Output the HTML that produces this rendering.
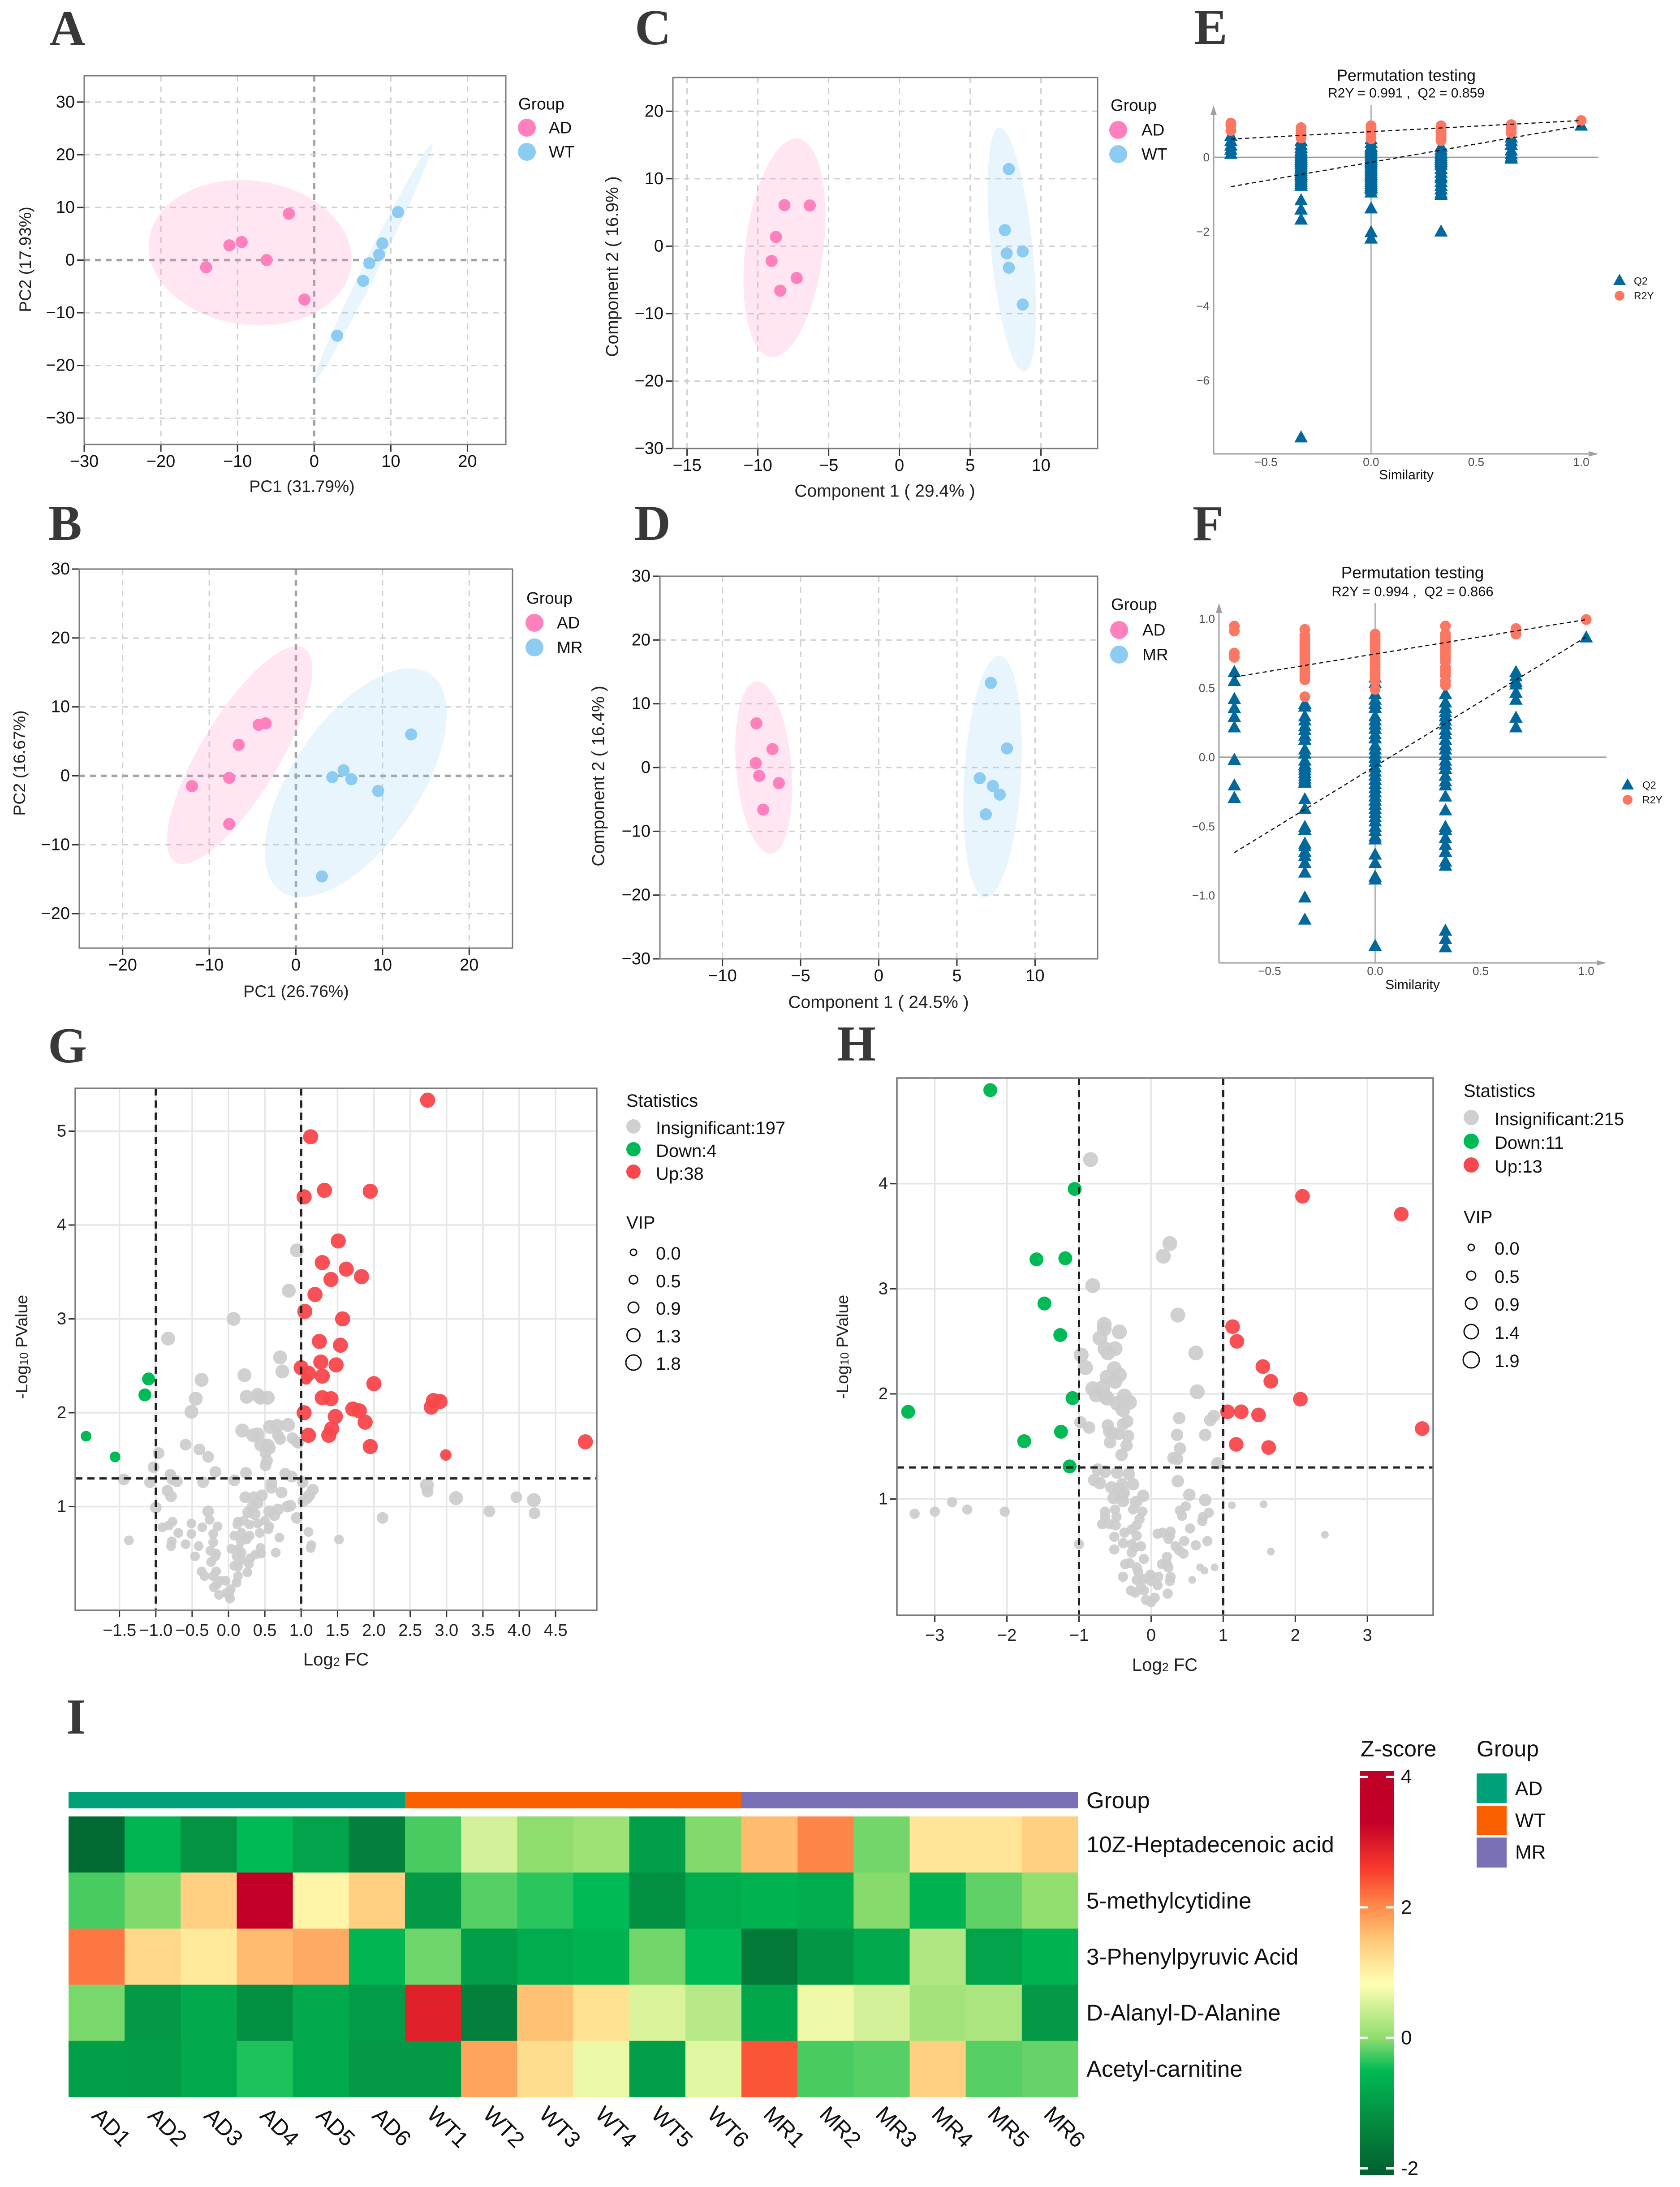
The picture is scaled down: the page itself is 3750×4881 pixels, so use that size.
<!DOCTYPE html>
<html lang="en">
<head>
<meta charset="utf-8">
<title>Metabolomics multi-panel figure</title>
<style>
html,body{margin:0;padding:0;background:#fff;}
svg{display:block;}
text{font-family:"Liberation Sans",Arial,sans-serif;fill:#111;}
.panel-letter{font-family:"Liberation Serif","Times New Roman",serif;font-weight:bold;font-size:112px;fill:#383838;}
.t38{font-size:38px;}
.axt{font-size:37.5px;fill:#222;}
.axc{font-size:39px;fill:#222;}
.axl{font-size:40px;fill:#222;}
.lg{font-size:37px;}
.vlg{font-size:40px;}
.permt{font-size:36px;}
.permf{font-size:37px;}
.perms{font-size:30px;}
.permg{font-size:31px;}
.sim{font-size:30px;}
.plg{font-size:23px;}
.hm{font-size:51px;}
.hl{font-size:50px;}
.hg{font-size:44px;}
</style>
</head>
<body>
<svg id="figure" xmlns="http://www.w3.org/2000/svg" width="3750" height="4881" viewBox="0 0 3750 4881">
<rect width="3750" height="4881" fill="#fff"/>

<text class="panel-letter" x="110" y="101">A</text>
<text class="panel-letter" x="108" y="1205">B</text>
<text class="panel-letter" x="1417" y="99">C</text>
<text class="panel-letter" x="1416" y="1205">D</text>
<text class="panel-letter" x="2665" y="98">E</text>
<text class="panel-letter" x="2662" y="1206">F</text>
<text class="panel-letter" x="107" y="2371">G</text>
<text class="panel-letter" x="1868" y="2367">H</text>
<text class="panel-letter" x="148" y="3869">I</text>

<g id="panel-a"></g>
<g id="panel-b"></g>
<g id="panel-c"></g>
<g id="panel-d"></g>
<g id="panel-e"></g>
<g id="panel-f"></g>
<g id="panel-g"></g>
<g id="panel-h"></g>
<g id="panel-i"></g>

<!-- axis titles -->
<text class="axt" x="674" y="1085" text-anchor="middle" dominant-baseline="central">PC1 (31.79%)</text>
<text class="axt" transform="translate(56 579) rotate(-90)" text-anchor="middle" dominant-baseline="central">PC2 (17.93%)</text>
<text class="axt" x="661" y="2212" text-anchor="middle" dominant-baseline="central">PC1 (26.76%)</text>
<text class="axt" transform="translate(43 1703) rotate(-90)" text-anchor="middle" dominant-baseline="central">PC2 (16.67%)</text>
<text class="axc" x="1975" y="1096" text-anchor="middle" dominant-baseline="central">Component 1 ( 29.4% )</text>
<text class="axc" transform="translate(1367 595) rotate(-90)" text-anchor="middle" dominant-baseline="central">Component 2 ( 16.9% )</text>
<text class="axc" x="1961" y="2237" text-anchor="middle" dominant-baseline="central">Component 1 ( 24.5% )</text>
<text class="axc" transform="translate(1336 1732) rotate(-90)" text-anchor="middle" dominant-baseline="central">Component 2 ( 16.4% )</text>
<text class="axl" x="750" y="3704" text-anchor="middle" dominant-baseline="central">Log<tspan font-size="27" dy="5">2</tspan><tspan dy="-5"> FC</tspan></text>
<text class="axt" transform="translate(48 3006) rotate(-90)" text-anchor="middle" dominant-baseline="central">-Log<tspan font-size="26" dy="5">10</tspan><tspan dy="-5"> PValue</tspan></text>
<text class="axl" x="2600" y="3716" text-anchor="middle" dominant-baseline="central">Log<tspan font-size="27" dy="5">2</tspan><tspan dy="-5"> FC</tspan></text>
<text class="axt" transform="translate(1880 3006) rotate(-90)" text-anchor="middle" dominant-baseline="central">-Log<tspan font-size="26" dy="5">10</tspan><tspan dy="-5"> PValue</tspan></text>

<!-- PCA / PLS-DA legends -->
<g>
<text class="lg" x="1157" y="232" dominant-baseline="central">Group</text>
<circle cx="1176" cy="285" r="20" fill="#ff80bd"/>
<text class="lg" x="1225" y="285" dominant-baseline="central">AD</text>
<circle cx="1176" cy="339" r="20" fill="#8ccbf2"/>
<text class="lg" x="1225" y="339" dominant-baseline="central">WT</text>
</g>
<g>
<text class="lg" x="1175" y="1335" dominant-baseline="central">Group</text>
<circle cx="1193" cy="1390" r="20" fill="#ff80bd"/>
<text class="lg" x="1243" y="1390" dominant-baseline="central">AD</text>
<circle cx="1193" cy="1445" r="20" fill="#8ccbf2"/>
<text class="lg" x="1243" y="1445" dominant-baseline="central">MR</text>
</g>
<g>
<text class="lg" x="2479" y="235" dominant-baseline="central">Group</text>
<circle cx="2496" cy="290" r="20" fill="#ff80bd"/>
<text class="lg" x="2548" y="290" dominant-baseline="central">AD</text>
<circle cx="2496" cy="344" r="20" fill="#8ccbf2"/>
<text class="lg" x="2548" y="344" dominant-baseline="central">WT</text>
</g>
<g>
<text class="lg" x="2480" y="1349" dominant-baseline="central">Group</text>
<circle cx="2498" cy="1406" r="20" fill="#ff80bd"/>
<text class="lg" x="2540" y="1406" dominant-baseline="central" dx="10">AD</text>
<circle cx="2498" cy="1461" r="20" fill="#8ccbf2"/>
<text class="lg" x="2540" y="1461" dominant-baseline="central" dx="10">MR</text>
</g>

<!-- Permutation titles and legends -->
<text class="permt" x="3139" y="168" text-anchor="middle" dominant-baseline="central">Permutation testing</text>
<text class="perms" x="3139" y="208" text-anchor="middle" dominant-baseline="central" xml:space="preserve">R2Y = 0.991 ,  Q2 = 0.859</text>
<text class="sim" x="3139" y="1060" text-anchor="middle" dominant-baseline="central">Similarity</text>
<polygon points="3615,611 3629,636 3601,636" fill="#00689d"/>
<text class="plg" x="3647" y="627" dominant-baseline="central">Q2</text>
<circle cx="3615" cy="660" r="11" fill="#fb7762"/>
<text class="plg" x="3647" y="660" dominant-baseline="central">R2Y</text>

<text class="permf" x="3153" y="1278" text-anchor="middle" dominant-baseline="central">Permutation testing</text>
<text class="permg" x="3153" y="1320" text-anchor="middle" dominant-baseline="central" xml:space="preserve">R2Y = 0.994 ,  Q2 = 0.866</text>
<text class="sim" x="3153" y="2198" text-anchor="middle" dominant-baseline="central">Similarity</text>
<polygon points="3633,1737 3647,1762 3619,1762" fill="#00689d"/>
<text class="plg" x="3666" y="1752" dominant-baseline="central">Q2</text>
<circle cx="3633" cy="1785" r="11" fill="#fb7762"/>
<text class="plg" x="3666" y="1785" dominant-baseline="central">R2Y</text>

<!-- Volcano legends -->
<g>
<text class="vlg" x="1398" y="2457" dominant-baseline="central">Statistics</text>
<circle cx="1414" cy="2514" r="16" fill="#cfcfcf"/>
<text class="vlg" x="1464" y="2518" dominant-baseline="central">Insignificant:197</text>
<circle cx="1414" cy="2565" r="16" fill="#00ba55"/>
<text class="vlg" x="1464" y="2569" dominant-baseline="central">Down:4</text>
<circle cx="1414" cy="2615" r="16" fill="#f8484c"/>
<text class="vlg" x="1464" y="2620" dominant-baseline="central">Up:38</text>
<text class="vlg" x="1398" y="2729" dominant-baseline="central">VIP</text>
<circle cx="1414" cy="2795" r="7" fill="none" stroke="#111" stroke-width="3"/>
<text class="vlg" x="1464" y="2798" dominant-baseline="central">0.0</text>
<circle cx="1414" cy="2856" r="9.5" fill="none" stroke="#111" stroke-width="3"/>
<text class="vlg" x="1464" y="2860" dominant-baseline="central">0.5</text>
<circle cx="1414" cy="2918" r="12" fill="none" stroke="#111" stroke-width="3"/>
<text class="vlg" x="1464" y="2921" dominant-baseline="central">0.9</text>
<circle cx="1414" cy="2980" r="14.5" fill="none" stroke="#111" stroke-width="3"/>
<text class="vlg" x="1464" y="2983" dominant-baseline="central">1.3</text>
<circle cx="1414" cy="3041" r="17" fill="none" stroke="#111" stroke-width="3"/>
<text class="vlg" x="1464" y="3044" dominant-baseline="central">1.8</text>
</g>
<g>
<text class="vlg" x="3267" y="2435" dominant-baseline="central">Statistics</text>
<circle cx="3284" cy="2494" r="17" fill="#cfcfcf"/>
<text class="vlg" x="3336" y="2498" dominant-baseline="central">Insignificant:215</text>
<circle cx="3284" cy="2547" r="17" fill="#00ba55"/>
<text class="vlg" x="3336" y="2551" dominant-baseline="central">Down:11</text>
<circle cx="3284" cy="2600" r="17" fill="#f8484c"/>
<text class="vlg" x="3336" y="2604" dominant-baseline="central">Up:13</text>
<text class="vlg" x="3267" y="2717" dominant-baseline="central">VIP</text>
<circle cx="3284" cy="2784" r="7" fill="none" stroke="#111" stroke-width="3"/>
<text class="vlg" x="3336" y="2787" dominant-baseline="central">0.0</text>
<circle cx="3284" cy="2847" r="10" fill="none" stroke="#111" stroke-width="3"/>
<text class="vlg" x="3336" y="2850" dominant-baseline="central">0.5</text>
<circle cx="3284" cy="2909" r="13" fill="none" stroke="#111" stroke-width="3"/>
<text class="vlg" x="3336" y="2912" dominant-baseline="central">0.9</text>
<circle cx="3284" cy="2972" r="16" fill="none" stroke="#111" stroke-width="3"/>
<text class="vlg" x="3336" y="2975" dominant-baseline="central">1.4</text>
<circle cx="3284" cy="3035" r="18" fill="none" stroke="#111" stroke-width="3"/>
<text class="vlg" x="3336" y="3038" dominant-baseline="central">1.9</text>
</g>

<!-- Heatmap legends -->
<text class="hl" x="3037" y="3903" dominant-baseline="central">Z-score</text>
<text class="hl" x="3296" y="3903" dominant-baseline="central">Group</text>
<rect x="3296" y="3958" width="67" height="66" fill="#00a078"/>
<text class="hg" x="3382" y="3992" dominant-baseline="central">AD</text>
<rect x="3296" y="4030" width="67" height="66" fill="#fb6000"/>
<text class="hg" x="3382" y="4063" dominant-baseline="central">WT</text>
<rect x="3296" y="4101" width="67" height="67" fill="#7a70b5"/>
<text class="hg" x="3382" y="4134" dominant-baseline="central">MR</text>
<text class="hm" x="2425" y="4018" dominant-baseline="central">Group</text>
</svg>

<script>
/* ---------- Panel A data ---------- */
const aAdPc1 = [-14.1, -11.06, -9.46, -6.2, -3.3, -1.27];
const aAdPc2 = [-1.37, 2.8, 3.43, 0, 8.8, -7.5];
const aWtPc1 = [3.0, 6.39, 7.2, 8.47, 8.9, 10.94];
const aWtPc2 = [-14.35, -3.93, -0.6, 1.06, 3.18, 9.1];
const aAdEllipse = [-8.35, 1.4, 13.25, 13.8, -0.09];
const aWtEllipse = [7.77, -0.25, 7.68, 22.35, 0.99];
const aXTicks = [-30, -20, -10, 0, 10, 20];
const aYTicks = [-30, -20, -10, 0, 10, 20, 30];
/* ---------- Panel B data ---------- */
const bAdPc1 = [-12.0, -7.7, -7.7, -6.6, -4.3, -3.5];
const bAdPc2 = [-1.5, -0.3, -7, 4.5, 7.4, 7.6];
const bMrPc1 = [3, 4.2, 5.5, 6.4, 9.5, 13.3];
const bMrPc2 = [-14.6, -0.2, 0.8, -0.5, -2.2, 6];
const bAdEllipse = [-6.5, 3, 8.4, 15.8, 0.786];
const bMrEllipse = [6.9, -1, 10.5, 16.6, 0.6];
const bXTicks = [-20, -10, 0, 10, 20];
const bYTicks = [-20, -10, 0, 10, 20, 30];
/* ---------- Panel C data ---------- */
const cAdC1 = [-8.12, -6.33, -8.72, -9.03, -7.26, -8.42];
const cAdC2 = [6.08, 6.03, 1.36, -2.19, -4.72, -6.6];
const cWtC1 = [7.73, 7.45, 7.58, 8.71, 7.73, 8.71];
const cWtC2 = [11.43, 2.38, -1.07, -0.78, -3.2, -8.66];
const cAdEllipse = [-8.12, -0.24, 2.9, 16.2, 0.29];
const cWtEllipse = [7.94, -0.5, 1.71, 18.1, -0.5];
const cXTicks = [-15, -10, -5, 0, 5, 10];
const cYTicks = [-30, -20, -10, 0, 10, 20];
/* ---------- Panel D data ---------- */
const dAdC1 = [-7.83, -6.8, -7.87, -7.65, -6.39, -7.39];
const dAdC2 = [6.93, 2.9, 0.7, -1.3, -2.45, -6.6];
const dMrC1 = [7.17, 8.2, 6.46, 7.3, 7.74, 6.85];
const dMrC2 = [13.26, 3, -1.67, -2.9, -4.25, -7.34];
const dAdEllipse = [-7.36, 0, 1.82, 13.5, -0.23];
const dMrEllipse = [7.28, -1.43, 1.87, 18.95, 0.23];
const dXTicks = [-10, -5, 0, 5, 10];
const dYTicks = [-30, -20, -10, 0, 10, 20, 30];

/* ---------- Panel E permutation data ---------- */
const similarityLevels = [-0.667, -0.333, 0, 0.333, 0.667, 1];
const eQ2 = [
  [0.59, 0.45, 0.33, 0.22, 0.11],
  [0.45, 0.35, 0.27, 0.2, 0.15, 0.1, 0.05, 0, -0.05, -0.1, -0.15, -0.2, -0.25, -0.3, -0.35, -0.4, -0.45, -0.5, -0.55, -0.6, -0.65, -0.7, -0.75, -1.14, -1.39, -1.66, -7.52],
  [0.5, 0.4, 0.3, 0.25, 0.2, 0.15, 0.1, 0.05, 0, -0.05, -0.1, -0.15, -0.2, -0.25, -0.3, -0.35, -0.4, -0.45, -0.5, -0.55, -0.6, -0.65, -0.7, -0.75, -0.8, -0.85, -0.93, -1.36, -2.0, -2.17],
  [0.3, 0.22, 0.15, 0.1, 0.05, 0, -0.05, -0.1, -0.15, -0.2, -0.3, -0.4, -0.5, -0.55, -0.65, -0.75, -0.85, -0.95, -1.0, -1.98],
  [0.55, 0.45, 0.35, 0.2, 0.1, 0.02, -0.02],
  [0.87]
];
const eR2Y = [
  [0.92, 0.85, 0.72],
  [0.8, 0.75, 0.7, 0.65, 0.6, 0.55, 0.52],
  [0.85, 0.8, 0.75, 0.7, 0.65, 0.5],
  [0.85, 0.8, 0.75, 0.7, 0.65, 0.6, 0.55, 0.5, 0.45],
  [0.88, 0.8, 0.7, 0.65],
  [0.99]
];
const eR2YLine = [0.49, 0.99];
const eQ2Line = [-0.79, 0.85];
const eXTicks = [-0.5, 0, 0.5, 1];
const eXTickLabels = ['\u22120.5', '0.0', '0.5', '1.0'];
const eYTicks = [-6, -4, -2, 0];
const eYTickLabels = ['\u22126', '\u22124', '\u22122', '0'];

/* ---------- Panel F permutation data ---------- */
const fQ2 = [
  [0.62, 0.555, 0.425, 0.36, 0.295, 0.22, -0.015, -0.2, -0.29],
  [0.39, 0.37, 0.30, 0.27, 0.23, 0.2, 0.16, 0.13, 0.06, 0.03, -0.02, -0.05, -0.07, -0.09, -0.11, -0.13, -0.15, -0.17, -0.18, -0.3, -0.37, -0.5, -0.52, -0.62, -0.64, -0.68, -0.71, -0.76, -0.83, -1.01, -1.17],
  [0.58, 0.54, 0.46, 0.42, 0.39, 0.36, 0.3, 0.27, 0.24, 0.21, 0.17, 0.14, 0.09, 0.06, 0.03, 0, -0.03, -0.07, -0.1, -0.13, -0.16, -0.19, -0.22, -0.25, -0.28, -0.31, -0.34, -0.37, -0.4, -0.43, -0.46, -0.5, -0.53, -0.57, -0.59, -0.7, -0.76, -0.86, -0.88, -1.36],
  [0.46, 0.4, 0.36, 0.33, 0.3, 0.27, 0.24, 0.2, 0.17, 0.13, 0.09, 0.06, 0.02, -0.02, -0.05, -0.08, -0.13, -0.17, -0.2, -0.28, -0.38, -0.5, -0.52, -0.58, -0.63, -0.68, -0.75, -0.78, -1.25, -1.31, -1.37],
  [0.62, 0.59, 0.55, 0.53, 0.47, 0.42, 0.29, 0.22],
  [0.87]
];
const fR2Y = [
  [0.948, 0.912, 0.753, 0.722],
  [0.924, 0.88, 0.86, 0.84, 0.82, 0.8, 0.78, 0.76, 0.74, 0.72, 0.7, 0.68, 0.66, 0.64, 0.62, 0.6, 0.58, 0.56, 0.437],
  [0.89, 0.87, 0.85, 0.83, 0.81, 0.79, 0.77, 0.75, 0.73, 0.71, 0.69, 0.67, 0.65, 0.63, 0.61, 0.59, 0.57, 0.55, 0.49],
  [0.948, 0.89, 0.87, 0.85, 0.83, 0.81, 0.79, 0.77, 0.75, 0.73, 0.71, 0.69, 0.65, 0.63, 0.61, 0.59, 0.55, 0.52],
  [0.93, 0.89],
  [0.995]
];
const fR2YLine = [0.58, 0.995];
const fQ2Line = [-0.69, 0.87];
const fXTicks = [-0.5, 0, 0.5, 1];
const fXTickLabels = ['\u22120.5', '0.0', '0.5', '1.0'];
const fYTicks = [-1, -0.5, 0, 0.5, 1];
const fYTickLabels = ['\u22121.0', '\u22120.5', '0.0', '0.5', '1.0'];

/* ---------- Panel G volcano data: [log2FC, -log10P] ---------- */
const gUpLarge = [[2.74,5.33],[1.13,4.94],[1.32,4.37],[1.95,4.36],[1.04,4.30],[1.51,3.83],[1.29,3.60],[1.62,3.53],[1.83,3.45],[1.41,3.42],[1.19,3.26],[1.05,3.08],[1.57,3.00],[1.25,2.76],[1.54,2.72],[1.00,2.48],[1.27,2.54],[1.48,2.51],[1.10,2.42],[1.29,2.39],[2.00,2.31],[1.29,2.16],[1.41,2.15],[2.82,2.13],[2.91,2.12],[2.79,2.06],[1.04,2.00],[1.71,2.04],[1.80,2.02],[1.47,1.96],[1.88,1.90],[1.42,1.83],[1.38,1.76],[1.10,1.76],[1.95,1.64],[4.91,1.69]];
const gUpMid = [[1.07,2.36],[2.99,1.55]];
const gDownLarge = [[-1.10,2.36],[-1.15,2.19]];
const gDownMid = [[-1.96,1.75],[-1.56,1.53]];
const gGrayLarge = [[0.94,3.73],[0.83,3.30],[0.07,3.00],[-0.83,2.79],[0.74,2.44],[0.22,2.40],[-0.37,2.35],[0.40,2.19],[-0.45,2.15],[-0.51,2.01],[0.71,2.59],[0.25,2.17],[0.44,2.16],[0.54,2.16],[0.57,1.85],[0.67,1.86],[0.82,1.87],[0.19,1.81],[0.34,1.76],[0.40,1.77],[0.45,1.66],[0.54,1.65],[4.20,1.07],[2.73,1.23],[3.13,1.09]];
const gGrayMid = [[0.68,1.76],[0.88,1.73],[0.71,1.72],[0.94,1.69],[0.96,1.68],[-0.59,1.66],[-0.40,1.61],[0.57,1.62],[0.51,1.57],[-0.96,1.57],[-0.28,1.53],[0.53,1.49],[0.51,1.44],[-1.03,1.42],[-0.18,1.37],[0.24,1.36],[-0.80,1.34],[-0.77,1.29],[-0.71,1.27],[-1.44,1.29],[-0.35,1.26],[0.08,1.28],[-1.08,1.26],[0.78,1.35],[0.87,1.32],[0.59,1.25],[1.02,1.26],[0.59,1.20],[-0.84,1.17],[-0.79,1.11],[0.73,1.15],[1.16,1.18],[0.23,1.10],[0.35,1.10],[0.46,1.12],[1.11,1.12],[1.08,1.09],[1.03,1.06],[-1.00,0.99],[0.40,1.04],[0.33,1.00],[0.81,1.00],[0.85,1.01],[-0.28,0.95],[0.68,0.97],[0.56,0.95],[0.27,0.94],[0.63,0.91],[0.36,0.92],[2.74,1.16],[3.59,0.95],[3.96,1.10],[4.21,0.93],[2.12,0.88],[0.94,0.88]];
const gGrayLow = [[-0.77,0.84],[-0.26,0.86],[-0.51,0.82],[-0.91,0.78],[-0.82,0.80],[-0.36,0.78],[-0.15,0.79],[0.13,0.84],[0.21,0.85],[0.50,0.85],[0.12,0.81],[0.29,0.81],[0.40,0.82],[0.56,0.79],[-0.69,0.72],[-0.51,0.71],[-0.21,0.71],[0.08,0.69],[0.18,0.72],[0.29,0.69],[0.43,0.72],[0.55,0.76],[0.70,0.67],[1.10,0.73],[-1.37,0.64],[-0.78,0.63],[-0.79,0.58],[-0.59,0.60],[-0.41,0.58],[-0.21,0.62],[0.17,0.63],[0.25,0.65],[1.14,0.59],[1.13,0.56],[1.52,0.65],[0.04,0.55],[0.14,0.55],[0.44,0.56],[-0.25,0.53],[-0.17,0.50],[-0.46,0.47],[-0.18,0.47],[0.11,0.47],[0.18,0.51],[0.37,0.49],[0.45,0.50],[0.65,0.51],[-0.24,0.41],[0.18,0.43],[0.30,0.45],[0.28,0.39],[0.08,0.37],[0.13,0.36],[-0.37,0.31],[-0.17,0.31],[-0.33,0.26],[-0.21,0.26],[0.26,0.30],[0.13,0.26],[-0.11,0.21],[-0.04,0.21],[-0.16,0.17],[0.11,0.19],[0.03,0.12],[-0.20,0.14],[-0.03,0.08],[-0.13,0.06],[0.02,0.02],[0.01,0.06]];
const gXTicks = [-1.5, -1, -0.5, 0, 0.5, 1, 1.5, 2, 2.5, 3, 3.5, 4, 4.5];
const gYTicks = [1, 2, 3, 4, 5];
const gFcCut = [-1, 1];
const gPCut = [1.3];

/* ---------- Panel H volcano data: [log2FC, -log10P] ---------- */
const hUp = [[2.10,3.88],[3.47,3.71],[1.13,2.64],[1.19,2.50],[1.55,2.26],[1.66,2.12],[2.07,1.95],[1.06,1.83],[1.25,1.83],[1.49,1.80],[3.76,1.67],[1.18,1.52],[1.63,1.49]];
const hDown = [[-2.23,4.89],[-1.06,3.95],[-1.59,3.28],[-1.19,3.29],[-1.48,2.86],[-1.26,2.56],[-1.09,1.96],[-3.37,1.83],[-1.25,1.64],[-1.76,1.55],[-1.13,1.31]];
const hGrayLarge = [[-0.84,4.23],[0.26,3.43],[0.17,3.31],[-0.81,3.03],[0.37,2.75],[-0.65,2.66],[-0.65,2.62],[-0.44,2.59],[-0.71,2.53],[-0.64,2.43],[-0.50,2.43],[-0.60,2.39],[0.62,2.39],[-0.97,2.37],[-0.91,2.25],[-0.51,2.24],[-0.44,2.18],[-0.61,2.16],[-0.50,2.12],[-0.81,2.05],[-0.67,2.06],[0.64,2.02],[-0.76,1.99],[-0.64,1.98],[-0.61,1.96],[-0.37,1.98],[-0.30,1.92],[-0.47,1.91],[-0.39,1.85]];
const hGrayMid = [[0.87,1.79],[0.39,1.77],[0.82,1.75],[-0.98,1.73],[-0.86,1.68],[-0.60,1.70],[-0.33,1.74],[-0.39,1.71],[-0.58,1.64],[-0.53,1.63],[-0.45,1.62],[-0.32,1.60],[0.36,1.61],[0.75,1.61],[-0.57,1.54],[-0.34,1.51],[0.40,1.48],[-0.41,1.42],[0.31,1.39],[0.36,1.38],[0.92,1.34],[-0.74,1.28],[-0.64,1.26],[-0.47,1.25],[-0.31,1.24],[-0.79,1.18],[-0.71,1.15],[-0.25,1.14],[0.37,1.17],[-0.40,1.14],[-0.55,1.11],[-0.45,1.10],[-0.38,1.06],[-0.52,1.01],[-0.41,1.04],[-0.11,1.03],[0.53,1.04],[-0.39,0.98],[0.75,0.99],[-0.21,0.97]];
const hGrayLow = [[-2.76,0.97],[-2.55,0.90],[-3.00,0.88],[-2.03,0.88],[-3.28,0.86],[-0.50,0.90],[-0.25,0.90],[-0.64,0.88],[-0.12,0.88],[0.40,0.89],[0.48,0.93],[0.43,0.84],[0.80,0.87],[-0.64,0.83],[-0.48,0.83],[-0.16,0.81],[0.72,0.83],[0.71,0.79],[-0.68,0.76],[-0.57,0.76],[-0.49,0.75],[-0.20,0.75],[0.54,0.72],[-0.27,0.71],[-0.37,0.68],[-0.20,0.65],[0.09,0.67],[0.16,0.68],[0.27,0.69],[0.26,0.65],[-0.51,0.64],[0.24,0.62],[-0.14,0.55],[-0.27,0.57],[-0.39,0.58],[-0.22,0.54],[0.78,0.60],[0.46,0.60],[-1.00,0.57],[0.34,0.55],[0.62,0.56],[-0.51,0.52],[-0.27,0.49],[0.45,0.48],[0.39,0.51],[-0.10,0.43],[0.22,0.45],[0.22,0.38],[-0.36,0.38],[-0.30,0.39],[-0.20,0.35],[0.15,0.38],[0.24,0.35],[-0.18,0.31],[0.27,0.26],[-0.39,0.26],[-0.01,0.28],[0.10,0.26],[-0.20,0.23],[-0.10,0.24],[0,0.22],[0.26,0.22],[0.09,0.18],[-0.28,0.13],[-0.14,0.16],[-0.22,0.11],[-0.10,0.13],[0.23,0.10],[-0.07,0.04],[0,0.02],[0.05,0.06]];
const hGrayTiny = [[1.12,0.94],[1.56,0.95],[2.41,0.66],[1.66,0.50],[0.68,0.35],[0.74,0.32],[0.88,0.35],[0.57,0.23]];
const hXTicks = [-3, -2, -1, 0, 1, 2, 3];
const hYTicks = [1, 2, 3, 4];
const hFcCut = [-1, 1];
const hPCut = [1.3];

/* ---------- Panel I heatmap data ---------- */
const heatSamples = ['AD1','AD2','AD3','AD4','AD5','AD6','WT1','WT2','WT3','WT4','WT5','WT6','MR1','MR2','MR3','MR4','MR5','MR6'];
const heatGroups = ['AD','WT','MR'];
const heatGroupSizes = [6, 6, 6];
const heatMetabolites = ['10Z-Heptadecenoic acid','5-methylcytidine','3-Phenylpyruvic Acid','D-Alanyl-D-Alanine','Acetyl-carnitine'];
const zHeptadecenoic = [-1.9,-0.6,-1.15,-0.5,-0.9,-1.5,-0.25,0.5,0,0.1,-0.95,-0.05,1.6,2.05,-0.1,1.15,1.15,1.4];
const zMethylcytidine = [-0.25,-0.05,1.4,3.5,0.95,1.4,-1.05,-0.2,-0.35,-0.5,-1.2,-0.75,-0.65,-0.75,-0.03,-0.65,-0.17,0.02];
const zPhenylpyruvic = [2.15,1.3,1.1,1.6,1.75,-0.6,-0.12,-0.95,-0.75,-0.65,-0.1,-0.5,-1.6,-1.1,-0.8,0.25,-0.9,-0.65];
const zAlanylAlanine = [-0.08,-1.05,-0.8,-1.2,-0.8,-1.0,2.9,-1.5,1.55,1.2,0.55,0.3,-0.85,0.7,0.5,0.15,0.2,-1.05];
const zAcetylcarnitine = [-0.95,-1.0,-0.8,-0.4,-0.8,-1.05,-1.05,1.8,1.25,0.68,-0.98,0.6,2.4,-0.25,-0.2,1.4,-0.2,-0.15];
const colorbarTicks = [4, 2, 0, -2];

/* ---------- helpers ---------- */
const NS = 'http://www.w3.org/2000/svg';
function add(parent, tag, name, attrs) {
  const el = document.createElementNS(NS, tag);
  
  
  for (const k in attrs) el.setAttribute(k, attrs[k]);
  parent.appendChild(el);
  return el;
}
function addText(parent, name, str, attrs) {
  const el = add(parent, 'text', name, attrs);
  el.textContent = str;
  return el;
}
function linear(d0, d1, r0, r1) {
  return v => r0 + (v - d0) * (r1 - r0) / (d1 - d0);
}
function $(id) { return document.getElementById(id); }
function fmt(v) { return v < 0 ? '\u2212' + Math.abs(v) : String(v); }
function fmt1(v) { return (v < 0 ? '\u2212' : '') + Math.abs(v).toFixed(1); }
const GRAY_FRAME = '#7a7a7a';

/* ---------- PCA / PLS-DA panels ---------- */
function ellipsePath(e, sx, sy) {
  const [cx, cy, a, b, r] = e;
  const phi = Math.acos(r);
  let d = '';
  for (let i = 0; i < 120; i++) {
    const t = i / 120 * 2 * Math.PI;
    const px = sx(cx + a * Math.cos(t));
    const py = sy(cy + b * Math.cos(t + phi));
    d += (i ? 'L' : 'M') + px.toFixed(1) + ' ' + py.toFixed(1);
  }
  return d + 'Z';
}
function drawScatter(g, cfg) {
  const [l, t, r, b] = cfg.frame;
  const sx = linear(cfg.xDom[0], cfg.xDom[1], l, r);
  const sy = linear(cfg.yDom[0], cfg.yDom[1], b, t);
  cfg.xTicks.forEach(v => {
    const bold = cfg.boldZero && v === 0;
    add(g, 'line', 'x-grid-line', {x1: sx(v), x2: sx(v), y1: t, y2: b, stroke: bold ? '#a3a3a3' : '#d0d0d0', 'stroke-width': bold ? 5.5 : 3, 'stroke-dasharray': '13 11'});
    add(g, 'line', 'x-tick', {x1: sx(v), x2: sx(v), y1: b, y2: b + 16, stroke: '#333', 'stroke-width': 3});
    addText(g, 'x-tick-label', fmt(v), {x: sx(v), y: b + 38, 'text-anchor': 'middle', 'dominant-baseline': 'central', 'font-size': 38});
  });
  cfg.yTicks.forEach(v => {
    const bold = cfg.boldZero && v === 0;
    add(g, 'line', 'y-grid-line', {x1: l, x2: r, y1: sy(v), y2: sy(v), stroke: bold ? '#a3a3a3' : '#d0d0d0', 'stroke-width': bold ? 5.5 : 3, 'stroke-dasharray': '13 11'});
    add(g, 'line', 'y-tick', {x1: l - 16, x2: l, y1: sy(v), y2: sy(v), stroke: '#333', 'stroke-width': 3});
    addText(g, 'y-tick-label', fmt(v), {x: l - 21, y: sy(v), 'text-anchor': 'end', 'dominant-baseline': 'central', 'font-size': 38});
  });
  cfg.groups.forEach(gr => {
    add(g, 'path', gr.name + '-confidence-ellipse', {d: ellipsePath(gr.ellipse, sx, sy), fill: gr.color, 'fill-opacity': 0.2});
  });
  cfg.groups.forEach(gr => {
    gr.xs.forEach((v, i) => {
      add(g, 'circle', gr.name + '-point', {cx: sx(v), cy: sy(gr.ys[i]), r: 13.5, fill: gr.color});
    });
  });
  add(g, 'rect', 'plot-frame', {x: l, y: t, width: r - l, height: b - t, fill: 'none', stroke: GRAY_FRAME, 'stroke-width': 3});
}
const PINK = '#ff80bd', BLUE = '#8ccbf2';
drawScatter($('panel-a'), {frame: [188, 169, 1129, 992], xDom: [-30, 25], yDom: [-35, 35], xTicks: aXTicks, yTicks: aYTicks, boldZero: true,
  groups: [{name: 'ad', xs: aAdPc1, ys: aAdPc2, ellipse: aAdEllipse, color: PINK}, {name: 'wt', xs: aWtPc1, ys: aWtPc2, ellipse: aWtEllipse, color: BLUE}]});
drawScatter($('panel-b'), {frame: [177, 1270, 1144, 2116], xDom: [-25, 25], yDom: [-25, 30], xTicks: bXTicks, yTicks: bYTicks, boldZero: true,
  groups: [{name: 'ad', xs: bAdPc1, ys: bAdPc2, ellipse: bAdEllipse, color: PINK}, {name: 'mr', xs: bMrPc1, ys: bMrPc2, ellipse: bMrEllipse, color: BLUE}]});
drawScatter($('panel-c'), {frame: [1502, 173, 2450, 1001], xDom: [-16, 14], yDom: [-30, 25], xTicks: cXTicks, yTicks: cYTicks, boldZero: false,
  groups: [{name: 'ad', xs: cAdC1, ys: cAdC2, ellipse: cAdEllipse, color: PINK}, {name: 'wt', xs: cWtC1, ys: cWtC2, ellipse: cWtEllipse, color: BLUE}]});
drawScatter($('panel-d'), {frame: [1473, 1286, 2450, 2140], xDom: [-14, 14], yDom: [-30, 30], xTicks: dXTicks, yTicks: dYTicks, boldZero: false,
  groups: [{name: 'ad', xs: dAdC1, ys: dAdC2, ellipse: dAdEllipse, color: PINK}, {name: 'mr', xs: dMrC1, ys: dMrC2, ellipse: dMrEllipse, color: BLUE}]});

/* ---------- Permutation panels ---------- */
function drawPerm(g, cfg) {
  const [l, t, r, b] = cfg.frame;
  const sx = linear(cfg.xDom[0], cfg.xDom[1], l, r);
  const sy = linear(cfg.yDom[0], cfg.yDom[1], b, t);
  const axisColor = '#a0a0a0';
  add(g, 'line', 'zero-horizontal-line', {x1: l, x2: r, y1: sy(0), y2: sy(0), stroke: axisColor, 'stroke-width': 3});
  add(g, 'line', 'zero-vertical-line', {x1: sx(0), x2: sx(0), y1: t, y2: b, stroke: axisColor, 'stroke-width': 2.5});
  add(g, 'line', 'y-axis-line', {x1: l, x2: l, y1: t + 10, y2: b, stroke: axisColor, 'stroke-width': 3});
  add(g, 'line', 'x-axis-line', {x1: l, x2: r - 10, y1: b, y2: b, stroke: axisColor, 'stroke-width': 3});
  add(g, 'polygon', 'y-axis-arrow', {points: `${l},${t} ${l + 7},${t + 22} ${l - 7},${t + 22}`, fill: axisColor});
  add(g, 'polygon', 'x-axis-arrow', {points: `${r},${b} ${r - 22},${b + 6} ${r - 22},${b - 6}`, fill: axisColor});
  cfg.xTicks.forEach((v, i) => {
    addText(g, 'x-tick-label', cfg.xLabels[i], {x: sx(v), y: b + cfg.xLabelGap, 'text-anchor': 'middle', 'dominant-baseline': 'central', 'font-size': 26, style: 'fill:#4d4d4d'});
  });
  cfg.yTicks.forEach((v, i) => {
    addText(g, 'y-tick-label', cfg.yLabels[i], {x: l - 9, y: sy(v), 'text-anchor': 'end', 'dominant-baseline': 'central', 'font-size': 26, style: 'fill:#4d4d4d'});
  });
  similarityLevels.forEach((s, i) => {
    cfg.q2[i].forEach(v => {
      const px = sx(s), py = sy(v);
      add(g, 'polygon', 'q2-triangle', {points: `${px},${py - 14.5} ${px + 15},${py + 12.5} ${px - 15},${py + 12.5}`, fill: '#00689d'});
    });
  });
  similarityLevels.forEach((s, i) => {
    cfg.r2y[i].forEach(v => {
      add(g, 'circle', 'r2y-point', {cx: sx(s), cy: sy(v), r: 12, fill: '#fb7762'});
    });
  });
  const s0 = similarityLevels[0], s1 = similarityLevels[similarityLevels.length - 1];
  add(g, 'line', 'r2y-regression-line', {x1: sx(s0), x2: sx(s1), y1: sy(cfg.r2yLine[0]), y2: sy(cfg.r2yLine[1]), stroke: '#111', 'stroke-width': 2.5, 'stroke-dasharray': '9 7'});
  add(g, 'line', 'q2-regression-line', {x1: sx(s0), x2: sx(s1), y1: sy(cfg.q2Line[0]), y2: sy(cfg.q2Line[1]), stroke: '#111', 'stroke-width': 2.5, 'stroke-dasharray': '9 7'});
}
drawPerm($('panel-e'), {frame: [2709, 235, 3568, 1013], xDom: [-0.749, 1.082], yDom: [-7.98, 1.4], xTicks: eXTicks, xLabels: eXTickLabels, yTicks: eYTicks, yLabels: eYTickLabels, q2: eQ2, r2y: eR2Y, r2yLine: eR2YLine, q2Line: eQ2Line, xLabelGap: 18});
drawPerm($('panel-f'), {frame: [2721, 1346, 3586, 2149], xDom: [-0.7396, 1.0962], yDom: [-1.487, 1.114], xTicks: fXTicks, xLabels: fXTickLabels, yTicks: fYTicks, yLabels: fYTickLabels, q2: fQ2, r2y: fR2Y, r2yLine: fR2YLine, q2Line: fQ2Line, xLabelGap: 18});

/* ---------- Volcano panels ---------- */
function vipRadius(v) { return 7 + 5.5 * v; }
function drawVolcano(g, cfg) {
  const [l, t, r, b] = cfg.frame;
  const sx = linear(cfg.xDom[0], cfg.xDom[1], l, r);
  const sy = linear(cfg.yDom[0], cfg.yDom[1], b, t);
  cfg.xTicks.forEach(v => {
    add(g, 'line', 'x-grid-line', {x1: sx(v), x2: sx(v), y1: t, y2: b, stroke: '#e6e6e6', 'stroke-width': 3.5});
    add(g, 'line', 'x-tick', {x1: sx(v), x2: sx(v), y1: b, y2: b + 15, stroke: '#333', 'stroke-width': 3});
    addText(g, 'x-tick-label', cfg.xFmt(v), {x: sx(v), y: b + 45, 'text-anchor': 'middle', 'dominant-baseline': 'central', 'font-size': 38, style: 'fill:#222'});
  });
  cfg.yTicks.forEach(v => {
    add(g, 'line', 'y-grid-line', {x1: l, x2: r, y1: sy(v), y2: sy(v), stroke: '#e6e6e6', 'stroke-width': 3.5});
    add(g, 'line', 'y-tick', {x1: l - 15, x2: l, y1: sy(v), y2: sy(v), stroke: '#333', 'stroke-width': 3});
    addText(g, 'y-tick-label', String(v), {x: l - 20, y: sy(v), 'text-anchor': 'end', 'dominant-baseline': 'central', 'font-size': 38, style: 'fill:#222'});
  });
  cfg.series.forEach(s => {
    s.pts.forEach(p => {
      add(g, 'circle', s.name + '-point', {cx: sx(p[0]), cy: sy(p[1]), r: vipRadius(s.vip), fill: s.color, 'fill-opacity': s.alpha});
    });
  });
  cfg.fcCut.forEach(v => {
    add(g, 'line', 'fold-change-threshold', {x1: sx(v), x2: sx(v), y1: t, y2: b, stroke: '#222', 'stroke-width': 5, 'stroke-dasharray': '16 11'});
  });
  cfg.pCut.forEach(v => {
    add(g, 'line', 'p-value-threshold', {x1: l, x2: r, y1: sy(v), y2: sy(v), stroke: '#222', 'stroke-width': 5, 'stroke-dasharray': '16 11'});
  });
  add(g, 'rect', 'plot-frame', {x: l, y: t, width: r - l, height: b - t, fill: 'none', stroke: GRAY_FRAME, 'stroke-width': 3.5});
}
const GRAYC = '#cccccc', REDC = '#f8474b', GREENC = '#00ba55';
drawVolcano($('panel-g'), {frame: [168, 2429, 1332, 3594], xDom: [-2.108, 5.066], yDom: [-0.105, 5.456], xTicks: gXTicks, yTicks: gYTicks, xFmt: fmt1, fcCut: gFcCut, pCut: gPCut,
  series: [
    {name: 'insignificant', pts: gGrayLow, vip: 0.7, color: GRAYC, alpha: 0.92},
    {name: 'insignificant', pts: gGrayMid, vip: 1.1, color: GRAYC, alpha: 0.92},
    {name: 'insignificant', pts: gGrayLarge, vip: 1.55, color: GRAYC, alpha: 0.92},
    {name: 'down', pts: gDownMid, vip: 0.9, color: GREENC, alpha: 1},
    {name: 'down', pts: gDownLarge, vip: 1.35, color: GREENC, alpha: 1},
    {name: 'up', pts: gUpMid, vip: 1.05, color: REDC, alpha: 0.95},
    {name: 'up', pts: gUpLarge, vip: 1.8, color: REDC, alpha: 0.95}
  ]});
drawVolcano($('panel-h'), {frame: [2002, 2406, 3199, 3605], xDom: [-3.526, 3.912], yDom: [-0.106, 5.005], xTicks: hXTicks, yTicks: hYTicks, xFmt: fmt, fcCut: hFcCut, pCut: hPCut,
  series: [
    {name: 'insignificant', pts: hGrayTiny, vip: 0.3, color: GRAYC, alpha: 0.92},
    {name: 'insignificant', pts: hGrayLow, vip: 0.8, color: GRAYC, alpha: 0.92},
    {name: 'insignificant', pts: hGrayMid, vip: 1.25, color: GRAYC, alpha: 0.92},
    {name: 'insignificant', pts: hGrayLarge, vip: 1.75, color: GRAYC, alpha: 0.92},
    {name: 'down', pts: hDown, vip: 1.55, color: GREENC, alpha: 1},
    {name: 'up', pts: hUp, vip: 1.7, color: REDC, alpha: 0.95}
  ]});

/* ---------- Heatmap ---------- */
(function () {
  const g = $('panel-i');
  const stops = [[-2.1,'#00602f'],[-1.3,'#048a3f'],[-0.5,'#00bb55'],[0,'#90dd6f'],[0.83,'#ffffb3'],[1.5,'#ffc878'],[2,'#ff8c4b'],[2.6,'#f8392b'],[3.3,'#c30027'],[4.1,'#bf0026']];
  function hex(c) { return [1, 3, 5].map(i => parseInt(c.substr(i, 2), 16)); }
  function colorOf(v) {
    if (v <= stops[0][0]) return stops[0][1];
    for (let i = 1; i < stops.length; i++) {
      if (v <= stops[i][0]) {
        const f = (v - stops[i - 1][0]) / (stops[i][0] - stops[i - 1][0]);
        const a = hex(stops[i - 1][1]), b = hex(stops[i][1]);
        return 'rgb(' + a.map((x, k) => Math.round(x + (b[k] - x) * f)).join(',') + ')';
      }
    }
    return stops[stops.length - 1][1];
  }
  const left = 153, right = 2406, top = 4054, bottom = 4680;
  const colW = (right - left) / heatSamples.length;
  const rowH = (bottom - top) / heatMetabolites.length;
  const rows = [zHeptadecenoic, zMethylcytidine, zPhenylpyruvic, zAlanylAlanine, zAcetylcarnitine];
  const groupColors = {AD: '#00a078', WT: '#fb6000', MR: '#7a70b5'};
  let start = 0;
  heatGroups.forEach((name, i) => {
    add(g, 'rect', 'annotation-bar-' + name.toLowerCase(), {x: left + start * colW, y: 4000, width: heatGroupSizes[i] * colW, height: 36, fill: groupColors[name]});
    start += heatGroupSizes[i];
  });
  rows.forEach((row, ri) => {
    row.forEach((v, ci) => {
      add(g, 'rect', 'heatmap-cell', {x: left + ci * colW, y: top + ri * rowH, width: colW + 0.5, height: rowH + 0.5, fill: colorOf(v)});
    });
    addText(g, 'metabolite-label', heatMetabolites[ri], {x: 2425, y: top + (ri + 0.5) * rowH, 'dominant-baseline': 'central', 'font-size': 51});
  });
  heatSamples.forEach((s, i) => {
    const cx = left + (i + 0.5) * colW + 33;
    addText(g, 'sample-label', s, {transform: `translate(${cx} 4747) rotate(45)`, 'text-anchor': 'middle', 'dominant-baseline': 'central', 'font-size': 50});
  });
  const svg = $('figure');
  const defs = add(svg, 'defs', 'gradient-defs', {});
  const grad = add(defs, 'linearGradient', 'colorbar-gradient', {id: 'zgrad', x1: 0, y1: 0, x2: 0, y2: 1});
  const barTop = 3953, barBot = 4854, zTop = 4.086, zBot = -2.1;
  const sz = linear(zBot, zTop, barBot, barTop);
  stops.slice().reverse().forEach(st => {
    const off = Math.max(0, Math.min(1, (zTop - st[0]) / (zTop - zBot)));
    add(grad, 'stop', 'colorbar-stop', {offset: off, 'stop-color': st[1]});
  });
  add(g, 'rect', 'colorbar', {x: 3036, y: barTop, width: 76, height: barBot - barTop, fill: 'url(#zgrad)'});
  colorbarTicks.forEach(v => {
    add(g, 'rect', 'colorbar-tick-left', {x: 3036, y: sz(v) - 2.5, width: 18, height: 5, fill: '#fff'});
    add(g, 'rect', 'colorbar-tick-right', {x: 3094, y: sz(v) - 2.5, width: 18, height: 5, fill: '#fff'});
    addText(g, 'colorbar-tick-label', v < 0 ? '-' + Math.abs(v) : String(v), {x: 3127, y: sz(v), 'dominant-baseline': 'central', 'font-size': 44});
  });
})();
</script>
</body>
</html>
